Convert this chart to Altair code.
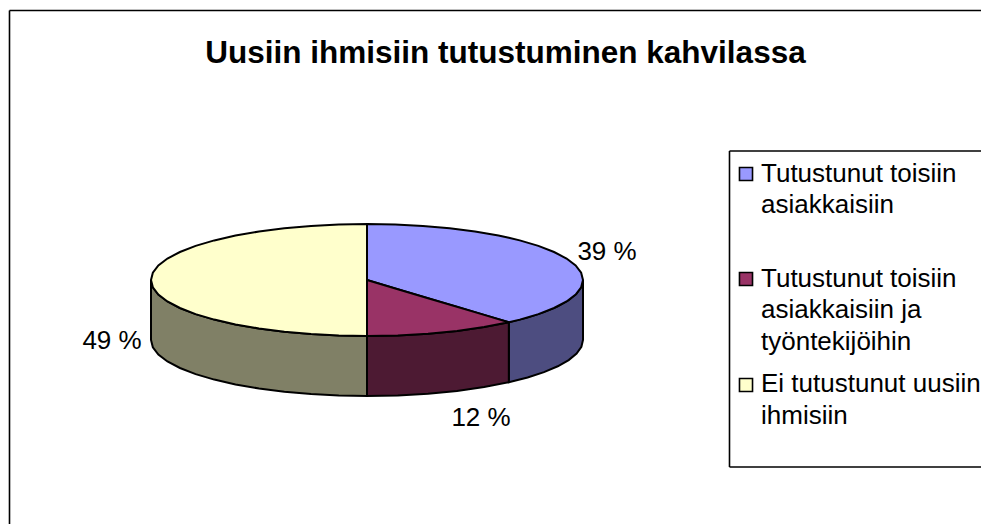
import math
import altair as alt
import pandas as pd

TITLE = "Uusiin ihmisiin tutustuminen kahvilassa"
categories = ["Tutustunut toisiin asiakkaisiin",
              "Tutustunut toisiin asiakkaisiin ja työntekijöihin",
              "Ei tutustunut uusiin ihmisiin"]
label_texts = ["39 %", "12 %", "49 %"]
# slice sizes as drawn in the picture (percent of the circle)
drawn_shares = [38.6, 11.4, 50.0]
top_colors = ["#9999FF", "#993366", "#FFFFCC"]
side_colors = ["#4D4D80", "#4D1A33", "#808066"]

legend_lines = [
    ["Tutustunut toisiin", "asiakkaisiin"],
    ["Tutustunut toisiin", "asiakkaisiin ja", "työntekijöihin"],
    ["Ei tutustunut uusiin", "ihmisiin"],
]
legend_line_y = [[182, 213], [287, 318, 350], [392, 424]]
legend_symbol_y = [174, 279, 385]
label_x = [607, 481, 112]
label_y = [260, 426, 349]

CX, CY, A, B, DEPTH = 367, 280, 216, 56, 60
STEP = 7.5


def ex(t):
    return CX + A * math.sin(math.radians(t))


def ey(t):
    return CY - B * math.cos(math.radians(t))


def sweep(a, b):
    n = max(1, round(abs(b - a) / STEP))
    return [a + (b - a) * i / n for i in range(n + 1)]


t1 = drawn_shares[0] * 3.6
t2 = t1 + drawn_shares[1] * 3.6
rows_top, rows_side = [], []


def chord_y(x):
    # line from the pie centre to the end of the first slice
    return CY + (ey(t1) - CY) * (x - CX) / (ex(t1) - CX)


# first slice: top arc above, chord then lower arc beneath
for t in sweep(0, 90):
    x = ex(t)
    lower = chord_y(x) if x <= ex(t1) else ey(180 - t)
    rows_top.append(dict(seg=categories[0], x=x, y=ey(t), y2=lower))
rows_top.append(dict(seg=categories[0], x=ex(t1), y=ey(180 - t1), y2=ey(t1)))
# second slice: chord above, lower arc beneath
for t in sweep(t1, t2):
    x = ex(t)
    rows_top.append(dict(seg=categories[1], x=x, y=chord_y(x), y2=ey(t)))
# third slice: left half of the ellipse
for t in sweep(t2, 270):
    rows_top.append(dict(seg=categories[2], x=ex(t), y=ey(540 - t), y2=ey(t)))
# side walls
for cat, a, b in [(categories[0], 90, t1), (categories[1], t1, t2), (categories[2], t2, 270)]:
    for t in sweep(a, b):
        rows_side.append(dict(seg=cat, x=ex(t), y=ey(t), y2=ey(t) + DEPTH))

x_s = alt.Scale(domain=[8, 981], nice=False, zero=False)
y_s = alt.Scale(domain=[524, 8], nice=False, zero=False)
X = alt.X("x:Q", scale=x_s, axis=None)
Y = alt.Y("y:Q", scale=y_s, axis=None)
X2, Y2 = alt.X2("x2:Q"), alt.Y2("y2:Q")


def fill(colors):
    return alt.Color("seg:N", scale=alt.Scale(domain=categories, range=colors), legend=None)


side = alt.Chart(pd.DataFrame(rows_side)).mark_area(
    stroke="black", strokeWidth=2, interpolate="linear"
).encode(x=X, y=Y, y2=Y2, color=fill(side_colors))
top = alt.Chart(pd.DataFrame(rows_top)).mark_area(
    stroke="black", strokeWidth=2, interpolate="linear"
).encode(x=X, y=Y, y2=Y2, color=fill(top_colors))

labels = alt.Chart(pd.DataFrame(dict(x=label_x, y=label_y, t=label_texts))).mark_text(
    font="Liberation Sans", fontSize=26, color="black", align="center", baseline="alphabetic"
).encode(x=X, y=Y, text="t:N")

frame_rows = pd.DataFrame([
    dict(x=9.5, x2=9.5, y=10.5, y2=524),
    dict(x=9.5, x2=981, y=10.5, y2=10.5),
    dict(x=729.5, x2=729.5, y=151, y2=467),
    dict(x=729.5, x2=981, y=151, y2=151),
    dict(x=729.5, x2=981, y=467, y2=467),
])
frame = alt.Chart(frame_rows).mark_rule(color="black", strokeWidth=1.6).encode(
    x=X, x2=X2, y=Y, y2=Y2)

symbols = alt.Chart(pd.DataFrame(dict(
    seg=categories, x=[746] * 3, y=legend_symbol_y))).mark_square(
    size=170, stroke="black", strokeWidth=1.6, opacity=1, filled=True
).encode(x=X, y=Y, color=fill(top_colors))

legend_rows = [dict(x=761, y=yy, t=ln)
               for lines, ys in zip(legend_lines, legend_line_y)
               for ln, yy in zip(lines, ys)]
legend_text = alt.Chart(pd.DataFrame(legend_rows)).mark_text(
    font="Liberation Sans", fontSize=26, color="black", align="left", baseline="alphabetic"
).encode(x=X, y=Y, text="t:N")

chart = alt.layer(
    frame, side, top, labels, symbols, legend_text
).resolve_scale(color="independent").properties(
    width=973, height=516, padding=0, background="white",
    autosize=alt.AutoSizeParams(type="none"),
    title=alt.TitleParams(TITLE, font="Liberation Sans", fontSize=31.5, fontWeight="bold",
                          color="black", anchor="middle", frame="group", baseline="alphabetic",
                          offset=0, dy=86, dx=11),
).configure_view(stroke=None)

chart.save("out.html", embed_options={"renderer": "svg", "actions": False})
